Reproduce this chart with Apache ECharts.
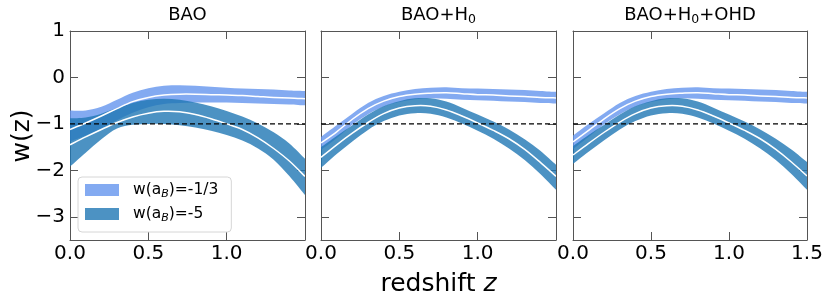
<!DOCTYPE html>
<html>
<head>
<meta charset="utf-8">
<script src="https://cdn.jsdelivr.net/npm/echarts@6/dist/echarts.min.js"></script>
<style>html,body{margin:0;padding:0;background:#fff;}#c{width:831px;height:306px;}</style>
</head>
<body>
<div id="c"></div>
<script>
// ---------------- data ----------------
const Z = [0, 0.1, 0.2, 0.3, 0.4, 0.5, 0.6, 0.7, 0.8, 0.9, 1.0, 1.1, 1.2, 1.3, 1.4, 1.5];

// Panel 1: BAO
const baoLightUpper  = [-0.71, -0.71, -0.63, -0.48, -0.33, -0.23, -0.18, -0.17, -0.18, -0.20, -0.22, -0.24, -0.25, -0.26, -0.28, -0.29];
const baoLightCenter = [-1.12, -0.98, -0.83, -0.67, -0.52, -0.43, -0.38, -0.36, -0.36, -0.37, -0.38, -0.39, -0.41, -0.43, -0.44, -0.46];
const baoLightLower  = [-1.38, -1.25, -1.10, -0.92, -0.76, -0.64, -0.57, -0.55, -0.54, -0.54, -0.54, -0.55, -0.56, -0.57, -0.58, -0.60];
const baoDarkUpper   = [-0.88, -0.86, -0.78, -0.66, -0.55, -0.48, -0.46, -0.48, -0.54, -0.62, -0.72, -0.84, -0.99, -1.18, -1.42, -1.75];
const baoDarkCenter  = [-1.45, -1.28, -1.12, -0.97, -0.85, -0.77, -0.73, -0.74, -0.80, -0.89, -1.00, -1.12, -1.30, -1.53, -1.80, -2.13];
const baoDarkLower   = [-1.92, -1.62, -1.33, -1.10, -1.02, -1.00, -1.00, -1.03, -1.08, -1.15, -1.24, -1.36, -1.53, -1.77, -2.12, -2.53];

// Panel 2: BAO+H0
const hLightUpper  = [-1.28, -1.03, -0.78, -0.55, -0.40, -0.31, -0.25, -0.22, -0.21, -0.23, -0.24, -0.25, -0.26, -0.27, -0.29, -0.31];
const hLightCenter = [-1.41, -1.17, -0.90, -0.67, -0.51, -0.41, -0.36, -0.34, -0.33, -0.35, -0.37, -0.38, -0.40, -0.41, -0.43, -0.44];
const hLightLower  = [-1.56, -1.31, -1.02, -0.79, -0.63, -0.53, -0.47, -0.45, -0.46, -0.48, -0.49, -0.50, -0.52, -0.53, -0.55, -0.56];
const hDarkUpper   = [-1.50, -1.26, -1.03, -0.80, -0.62, -0.51, -0.45, -0.45, -0.52, -0.65, -0.80, -0.95, -1.12, -1.33, -1.58, -1.88];
const hDarkCenter  = [-1.72, -1.45, -1.20, -0.97, -0.78, -0.66, -0.61, -0.62, -0.70, -0.83, -0.98, -1.14, -1.32, -1.55, -1.83, -2.13];
const hDarkLower   = [-1.95, -1.65, -1.38, -1.13, -0.94, -0.82, -0.77, -0.78, -0.86, -0.99, -1.15, -1.32, -1.53, -1.78, -2.08, -2.42];

// Panel 3: BAO+H0+OHD
const oLightUpper  = [-1.25, -1.00, -0.77, -0.55, -0.40, -0.31, -0.25, -0.22, -0.21, -0.23, -0.24, -0.25, -0.26, -0.27, -0.29, -0.31];
const oLightCenter = [-1.39, -1.14, -0.89, -0.67, -0.51, -0.41, -0.36, -0.34, -0.33, -0.35, -0.37, -0.38, -0.40, -0.41, -0.43, -0.44];
const oLightLower  = [-1.54, -1.28, -1.01, -0.79, -0.63, -0.53, -0.47, -0.45, -0.46, -0.48, -0.49, -0.50, -0.52, -0.53, -0.55, -0.56];
const oDarkUpper   = [-1.48, -1.24, -1.02, -0.80, -0.62, -0.51, -0.45, -0.45, -0.52, -0.65, -0.80, -0.95, -1.12, -1.32, -1.55, -1.82];
const oDarkCenter  = [-1.67, -1.42, -1.18, -0.96, -0.78, -0.66, -0.61, -0.62, -0.70, -0.83, -0.98, -1.14, -1.32, -1.55, -1.82, -2.12];
const oDarkLower   = [-1.86, -1.60, -1.35, -1.12, -0.94, -0.82, -0.77, -0.78, -0.86, -0.99, -1.15, -1.32, -1.53, -1.78, -2.08, -2.42];

const REF_W = -1;
const TITLES = ['BAO', 'BAO+H0', 'BAO+H0+OHD'];
const LEGEND_NAMES = ['w(a_B)=-1/3', 'w(a_B)=-5'];
const X_TICKS = [0.5, 1.0];
const X_LABELS_12 = [0, 0.5, 1.0];
const X_LABELS_3 = [0, 0.5, 1.0, 1.5];
const Y_TICKS = [-3, -2, -1, 0];
const Y_LABELS = [-3, -2, -1, 0, 1];

// ---------------- styles / layout ----------------
const LIGHT = 'rgba(100,149,237,0.8)';
const DARK = 'rgba(31,119,180,0.8)';
const FONT = 'DejaVu Sans';
const FRAME = '#555';
const grids = [
  {left: 70, top: 31, width: 235, height: 209},
  {left: 321, top: 31, width: 235, height: 209},
  {left: 573, top: 31, width: 234, height: 209}
];
const panels = [
  {lu: baoLightUpper, lc: baoLightCenter, ll: baoLightLower, du: baoDarkUpper, dc: baoDarkCenter, dl: baoDarkLower},
  {lu: hLightUpper, lc: hLightCenter, ll: hLightLower, du: hDarkUpper, dc: hDarkCenter, dl: hDarkLower},
  {lu: oLightUpper, lc: oLightCenter, ll: oLightLower, du: oDarkUpper, dc: oDarkCenter, dl: oDarkLower}
];

function curve(pts) {
  let d = '';
  const n = pts.length;
  for (let i = 0; i < n - 1; i++) {
    const p0 = pts[Math.max(i - 1, 0)], p1 = pts[i], p2 = pts[i + 1], p3 = pts[Math.min(i + 2, n - 1)];
    const c1x = p1[0] + (p2[0] - p0[0]) / 6, c1y = p1[1] + (p2[1] - p0[1]) / 6;
    const c2x = p2[0] - (p3[0] - p1[0]) / 6, c2y = p2[1] - (p3[1] - p1[1]) / 6;
    d += ' C' + c1x + ',' + c1y + ' ' + c2x + ',' + c2y + ' ' + p2[0] + ',' + p2[1];
  }
  return d;
}

function band(name, gi, lo, hi, color, z) {
  return {
    type: 'custom', name: name, xAxisIndex: gi * 2, yAxisIndex: gi * 2,
    coordinateSystem: 'cartesian2d', data: [[0, 0]], clip: true, z: z, silent: true,
    itemStyle: {color: color},
    renderItem: function (params, api) {
      const up = Z.map((x, i) => api.coord([x, hi[i]]));
      const dn = Z.map((x, i) => api.coord([x, lo[i]])).reverse();
      const d = 'M' + up[0][0] + ',' + up[0][1] + curve(up) + ' L' + dn[0][0] + ',' + dn[0][1] + curve(dn) + ' Z';
      return {type: 'path', shape: {pathData: d}, style: {fill: color, stroke: null}};
    }
  };
}

function centerLine(gi, vals, z) {
  return {
    type: 'custom', xAxisIndex: gi * 2, yAxisIndex: gi * 2,
    coordinateSystem: 'cartesian2d', data: [[0, 0]], clip: true, z: z, silent: true,
    renderItem: function (params, api) {
      const pts = Z.map((x, i) => api.coord([x, vals[i]]));
      const d = 'M' + pts[0][0] + ',' + pts[0][1] + curve(pts);
      return {type: 'path', shape: {pathData: d}, style: {fill: 'none', stroke: '#ffffff', lineWidth: 1.5}};
    }
  };
}

const xAxes = [], yAxes = [], series = [];
grids.forEach((g, gi) => {
  const common = {
    type: 'value', gridIndex: gi, min: 0, max: 1.5,
    axisLine: {show: true, onZero: false, lineStyle: {color: FRAME, width: 1}},
    splitLine: {show: false}
  };
  xAxes.push(Object.assign({}, common, {
    position: 'bottom',
    axisTick: {show: true, inside: true, length: 8, customValues: X_TICKS, lineStyle: {color: FRAME}},
    axisLabel: {show: true, customValues: gi === 2 ? X_LABELS_3 : X_LABELS_12, margin: 4,
      fontFamily: FONT, fontSize: 20, color: '#000', formatter: v => Number(v).toFixed(1)}
  }));
  xAxes.push(Object.assign({}, common, {
    position: 'top',
    axisTick: {show: true, inside: true, length: 8, customValues: X_TICKS, lineStyle: {color: FRAME}},
    axisLabel: {show: false}
  }));
  const ycommon = {
    type: 'value', gridIndex: gi, min: -3.5, max: 1,
    axisLine: {show: true, onZero: false, lineStyle: {color: FRAME, width: 1}},
    splitLine: {show: false}
  };
  yAxes.push(Object.assign({}, ycommon, {
    position: 'left',
    axisTick: {show: true, inside: true, length: 8, customValues: Y_TICKS, lineStyle: {color: FRAME}},
    axisLabel: {show: gi === 0, customValues: Y_LABELS, margin: 5, fontFamily: FONT, fontSize: 20, color: '#000',
      formatter: v => (v < 0 ? '\u2212' : '') + Math.abs(v)}
  }));
  yAxes.push(Object.assign({}, ycommon, {
    position: 'right',
    axisTick: {show: true, inside: true, length: 8, customValues: Y_TICKS, lineStyle: {color: FRAME}},
    axisLabel: {show: false}
  }));

  const p = panels[gi];
  series.push(band(LEGEND_NAMES[0], gi, p.ll, p.lu, LIGHT, 2));
  series.push(band(LEGEND_NAMES[1], gi, p.dl, p.du, DARK, 3));
  series.push(centerLine(gi, p.lc, 4));
  series.push(centerLine(gi, p.dc, 4));
  series.push({
    type: 'line', xAxisIndex: gi * 2, yAxisIndex: gi * 2, z: 5, silent: true,
    data: [[0, REF_W], [1.5, REF_W]], symbol: 'none',
    lineStyle: {color: '#000', width: 1.3, type: [5, 3]}
  });
});

const titleRich = {
  n: {fontFamily: FONT, fontSize: 18, lineHeight: 22, color: '#000'},
  s: {fontFamily: FONT, fontSize: 12.5, lineHeight: 13, verticalAlign: 'bottom', color: '#000'}
};
const graphics = TITLES.map((t, i) => ({
  type: 'text',
  x: grids[i].left + grids[i].width / 2, y: 15,
  style: {
    text: t.split('H0').map(s => s ? '{n|' + s + '}' : '').join('{n|H}{s|0}'),
    rich: titleRich, align: 'center', verticalAlign: 'middle', textAlign: 'center', textVerticalAlign: 'middle'
  }
}));
graphics.push({
  type: 'text', x: 22, y: 136, rotation: Math.PI / 2,
  style: {text: 'w(z)', fontFamily: FONT, fontSize: 25, fill: '#000',
    align: 'center', verticalAlign: 'middle', textAlign: 'center', textVerticalAlign: 'middle'}
});
graphics.push({
  type: 'text', x: 438.5, y: 284,
  style: {text: '{n|redshift }{i|z}',
    rich: {n: {fontFamily: FONT, fontSize: 25, color: '#000'}, i: {fontFamily: FONT, fontSize: 25, fontStyle: 'italic', color: '#000'}},
    align: 'center', verticalAlign: 'middle', textAlign: 'center', textVerticalAlign: 'middle'}
});

const chart = echarts.init(document.getElementById('c'), null, {renderer: 'canvas'});
chart.setOption({
  backgroundColor: '#fff',
  animation: false,
  grid: grids,
  xAxis: xAxes,
  yAxis: yAxes,
  legend: {
    data: LEGEND_NAMES, orient: 'vertical', left: 78, top: 177,
    icon: 'rect', itemWidth: 34, itemHeight: 12, itemGap: 6,
    padding: [5, 13, 8, 7],
    borderColor: '#d6d6d6', borderWidth: 1, borderRadius: 4,
    backgroundColor: 'rgba(255,255,255,0.8)',
    formatter: name => name === LEGEND_NAMES[0] ? '{n|w(a}{s|B}{n|)=-1/3}' : '{n|w(a}{s|B}{n|)=-5}',
    textStyle: {
      padding: [0, 0, 0, 9],
      rich: {
        n: {fontFamily: FONT, fontSize: 15.5, lineHeight: 20, color: '#000'},
        s: {fontFamily: FONT, fontSize: 11, fontStyle: 'italic', lineHeight: 12, verticalAlign: 'bottom', color: '#000'}
      }
    }
  },
  graphic: graphics,
  series: series
});
</script>
</body>
</html>
